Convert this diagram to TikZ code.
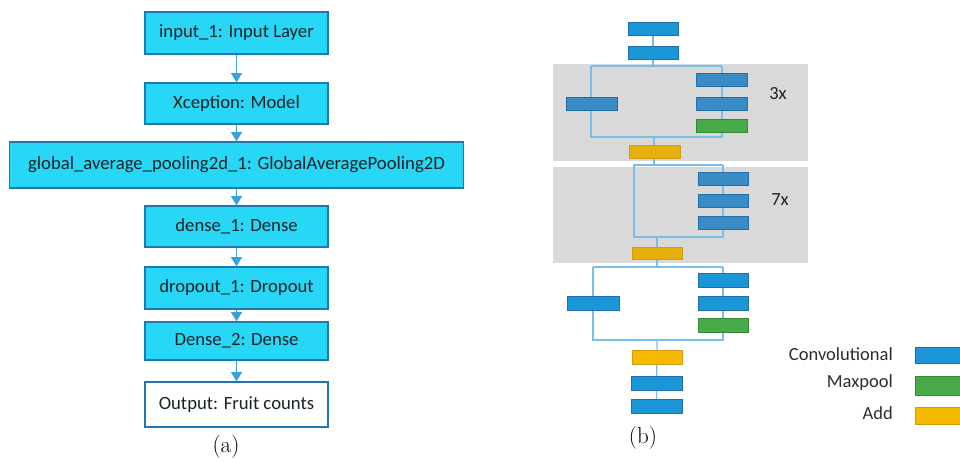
\documentclass[tikz,border=0pt]{standalone}
\usepackage{fontspec}
\newfontfamily\calfont{Carlito}
\usetikzlibrary{arrows.meta}
\definecolor{cyanfill}{RGB}{40,214,245}
\definecolor{cyanborder}{RGB}{30,120,180}
\definecolor{arrowblue}{RGB}{55,160,225}
\definecolor{darktext}{RGB}{25,35,40}
\definecolor{convfill}{RGB}{27,150,214}
\definecolor{convgfill}{RGB}{58,140,196}
\definecolor{convborder}{RGB}{35,110,170}
\definecolor{poolfill}{RGB}{72,170,72}
\definecolor{poolborder}{RGB}{55,135,55}
\definecolor{addfill}{RGB}{245,185,0}
\definecolor{addgfill}{RGB}{230,175,10}
\definecolor{addborder}{RGB}{210,155,20}
\definecolor{graybg}{RGB}{217,217,217}
\definecolor{linkblue}{RGB}{120,190,235}
\definecolor{legtext}{RGB}{45,45,45}
\tikzset{
  layerbox/.style={draw=cyanborder, line width=1.6pt, fill=cyanfill, inner sep=0pt,
    minimum width=183pt, text=darktext, font=\calfont\fontsize{18.7}{22}\selectfont},
  outbox/.style={layerbox, fill=white},
  flowarrow/.style={draw=arrowblue, line width=1pt, -{Triangle[width=11pt,length=9pt]}},
  blk/.style={draw, line width=1pt, inner sep=0pt, minimum width=51pt, minimum height=13pt},
  convb/.style={blk, fill=convfill, draw=convborder},
  convgb/.style={blk, fill=convgfill, draw=convborder},
  poolb/.style={blk, fill=poolfill, draw=poolborder},
  addb/.style={blk, fill=addfill, draw=addborder},
  addgb/.style={blk, fill=addgfill, draw=addborder},
  link/.style={draw=linkblue, line width=1.2pt},
  legtxt/.style={anchor=east, text=legtext, font=\calfont\fontsize{18.5}{22}\selectfont, inner sep=0pt},
  reptxt/.style={text=darktext, font=\calfont\fontsize{18.5}{22}\selectfont, inner sep=0pt},
  caplabel/.style={font=\fontsize{23}{27}\selectfont, inner sep=0pt}
}
\begin{document}
\begin{tikzpicture}[x=1pt,y=-1pt]
\useasboundingbox (0,0) rectangle (960,461);
\fill[white] (0,0) rectangle (960,461);

% ---------------- panel (a) ----------------
\node[layerbox, minimum height=42pt] (n1) at (236.5,33) {input\_1: Input Layer};
\node[layerbox, minimum height=41pt] (n2) at (236.5,103.5) {Xception: Model};
\node[layerbox, minimum height=46pt, minimum width=454pt] (n3) at (236.5,165) {global\_average\_pooling2d\_1: GlobalAveragePooling2D};
\node[layerbox, minimum height=41pt] (n4) at (236.5,226.5) {dense\_1: Dense};
\node[layerbox, minimum height=42pt] (n5) at (236.5,288) {dropout\_1: Dropout};
\node[layerbox, minimum height=38pt] (n6) at (236.5,341) {Dense\_2: Dense};
\node[outbox, minimum height=45pt] (n7) at (236.5,404.5) {Output: Fruit counts};
\foreach \a/\b in {n1/n2,n2/n3,n3/n4,n4/n5,n5/n6,n6/n7}
  \draw[flowarrow] (\a.south) -- (\b.north);
\node[caplabel] (capa) at (226,447) {(a)};

% ---------------- panel (b) ----------------
\fill[graybg] (553,64) rectangle (808,161);
\fill[graybg] (553,167) rectangle (808,263);

% block 1 coordinates
\coordinate (s1) at (653,66);
\coordinate (s1l) at (591,66);
\coordinate (s1r) at (722,66);
\coordinate (j1l) at (591,137);
\coordinate (j1r) at (722,137);
\coordinate (j1) at (654,137);
% block 2 coordinates
\coordinate (s2) at (654,165);
\coordinate (s2l) at (634,165);
\coordinate (s2r) at (723,165);
\coordinate (j2l) at (634,237);
\coordinate (j2r) at (723,237);
\coordinate (j2) at (657,237);
% block 3 coordinates
\coordinate (s3) at (657,267);
\coordinate (s3l) at (593,267);
\coordinate (s3r) at (723,267);
\coordinate (j3l) at (593,340);
\coordinate (j3r) at (723,340);
\coordinate (j3) at (657,340);

% links (behind blocks)
\draw[link] (653,28.5) -- (s1);
\draw[link] (s1l) -- (s1r);
\draw[link] (s1l) -- (j1l) -- (j1r) -- (s1r);
\draw[link] (j1) -- (654,151.5) -- (s2);
\draw[link] (s2l) -- (s2r);
\draw[link] (s2l) -- (j2l) -- (j2r) -- (s2r);
\draw[link] (j2) -- (s3);
\draw[link] (s3l) -- (s3r);
\draw[link] (s3l) -- (j3l) -- (j3r) -- (s3r);
\draw[link] (j3) -- (656.5,406);

% blocks
\node[convb, minimum width=50pt] (c1) at (653,28.5) {};
\node[convb, minimum width=50pt] (c2) at (653,52.5) {};
\node[convgb] (lb1) at (591.5,103.5) {};
\node[convgb] (r11) at (721.5,80) {};
\node[convgb] (r12) at (721.5,103.5) {};
\node[poolb] (r13) at (721.5,125.5) {};
\node[addgb] (a1) at (654.5,151.5) {};
\node[reptxt] (t3x) at (778,94) {3x};

\node[convgb, minimum width=50pt] (r21) at (723,178.5) {};
\node[convgb, minimum width=50pt] (r22) at (723,200.5) {};
\node[convgb, minimum width=50pt] (r23) at (723,223) {};
\node[addgb, minimum width=50pt, minimum height=12pt] (a2) at (657,253) {};
\node[reptxt] (t7x) at (780,200) {7x};

\node[convb, minimum width=52pt, minimum height=14pt] (lb3) at (593,303) {};
\node[convb, minimum width=50pt, minimum height=14pt] (r31) at (723,280) {};
\node[convb, minimum width=50pt, minimum height=14pt] (r32) at (723,303) {};
\node[poolb, minimum width=50pt, minimum height=14pt] (r33) at (723,325) {};
\node[addb, minimum width=50pt, minimum height=14pt] (a3) at (657,357) {};
\node[convb, minimum width=51pt, minimum height=14pt] (c3) at (656.5,383) {};
\node[convb, minimum width=51pt, minimum height=14pt] (c4) at (656.5,406) {};
\node[caplabel] (capb) at (643,438) {(b)};

% legend
\begin{scope}
\clip (0,0) rectangle (960,461);
\node[legtxt] (lconv) at (893,354) {Convolutional};
\node[legtxt] (lpool) at (893,383) {Maxpool};
\node[legtxt] (ladd) at (893,413) {Add};
\draw[convborder, fill=convfill, line width=1pt] (915,347) rectangle (975,363);
\draw[poolborder, fill=poolfill, line width=1pt] (915,376) rectangle (975,395);
\draw[addborder, fill=addfill, line width=1pt] (915,407) rectangle (975,424);
\end{scope}
\end{tikzpicture}
\end{document}
